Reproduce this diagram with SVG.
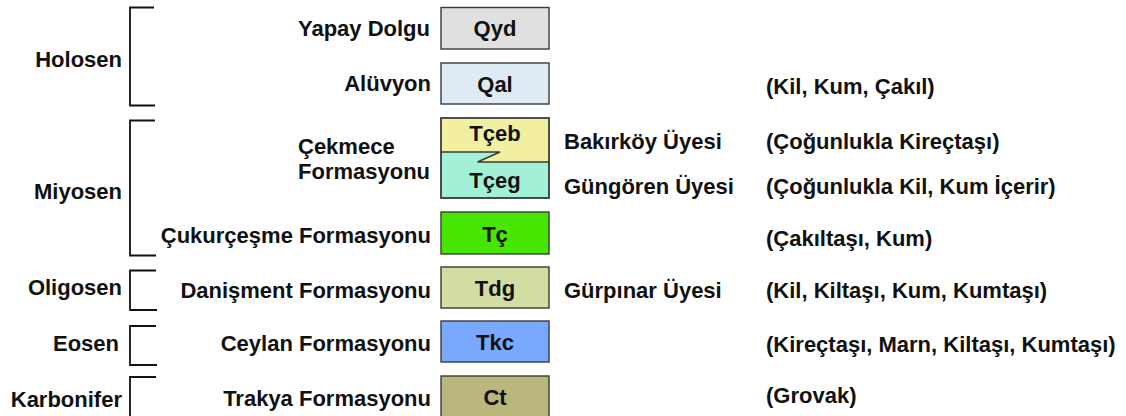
<svg xmlns="http://www.w3.org/2000/svg" width="1126" height="416" viewBox="0 0 1126 416">
<style>
text{font-family:"Liberation Sans",Arial,sans-serif;font-weight:bold;font-size:22px;fill:#111}
.e{text-anchor:end}
.m{text-anchor:middle}
.box{stroke:#3a3a3a;stroke-width:1.4}
.br{fill:none;stroke:#111;stroke-width:1.8}
</style>
<rect width="1126" height="416" fill="#fff"/>
<g id="epochs">
<g id="holosen"><path class="br" d="M154,7.5H130V105.5H155"/><text class="e" x="122" y="67">Holosen</text></g>
<g id="miyosen"><path class="br" d="M155,120.5H130V255.5H156"/><text class="e" x="122" y="199">Miyosen</text></g>
<g id="oligosen"><path class="br" d="M156,270.5H130V310H157"/><text class="e" x="122" y="295">Oligosen</text></g>
<g id="eosen"><path class="br" d="M156,326H130V365H157"/><text class="e" x="119" y="351">Eosen</text></g>
<g id="karbonifer"><path class="br" d="M156,377H130V420"/><text class="e" x="122" y="407">Karbonifer</text></g>
</g>
<g id="units">
<g id="qyd"><text class="e" x="430" y="36">Yapay Dolgu</text><rect class="box" x="441" y="7.5" width="108" height="41.5" fill="#e0e0e0"/><text class="m" x="495" y="36">Qyd</text></g>
<g id="qal"><text class="e" x="431" y="91">Alüvyon</text><rect class="box" x="441" y="63" width="108" height="41" fill="#deebf5"/><text class="m" x="495" y="92">Qal</text><text x="766" y="94">(Kil, Kum, Çakıl)</text></g>
<g id="tce">
<rect class="box" x="441" y="118" width="108" height="80" fill="#a2f0d6"/>
<path d="M441.7,118.7H548.3V162H477.5L500,152H441.7Z" fill="#f2f0a0"/>
<path d="M441,152H500L477.5,162H549" fill="none" stroke="#3a3a3a" stroke-width="1.4"/>
<rect x="441" y="118" width="108" height="80" fill="none" class="box"/>
<text x="298" y="154">Çekmece</text><text x="298" y="179">Formasyonu</text>
<text class="m" x="495" y="141">Tçeb</text><text class="m" x="495" y="188">Tçeg</text>
<text x="564" y="149">Bakırköy Üyesi</text><text x="564" y="194">Güngören Üyesi</text>
<text x="766" y="149">(Çoğunlukla Kireçtaşı)</text><text x="766" y="194">(Çoğunlukla Kil, Kum İçerir)</text>
</g>
<g id="tc"><text class="e" x="431" y="243">Çukurçeşme Formasyonu</text><rect class="box" x="441" y="212" width="108" height="42" fill="#46e600"/><text class="m" x="495" y="242">Tç</text><text x="766" y="246">(Çakıltaşı, Kum)</text></g>
<g id="tdg"><text class="e" x="431" y="298">Danişment Formasyonu</text><rect class="box" x="441" y="267" width="108" height="41" fill="#d2dda2"/><text class="m" x="495" y="296">Tdg</text><text x="564" y="298">Gürpınar Üyesi</text><text x="766" y="298">(Kil, Kiltaşı, Kum, Kumtaşı)</text></g>
<g id="tkc"><text class="e" x="431" y="351">Ceylan Formasyonu</text><rect class="box" x="441" y="321" width="108" height="41" fill="#78a8ff"/><text class="m" x="495" y="350">Tkc</text><text x="766" y="352">(Kireçtaşı, Marn, Kiltaşı, Kumtaşı)</text></g>
<g id="ct"><text class="e" x="431" y="406">Trakya Formasyonu</text><rect class="box" x="441" y="376" width="108" height="44" fill="#bab67c"/><text class="m" x="495" y="405">Ct</text><text x="766" y="403">(Grovak)</text></g>
</g>
<g id="connectors"></g>
</svg>
